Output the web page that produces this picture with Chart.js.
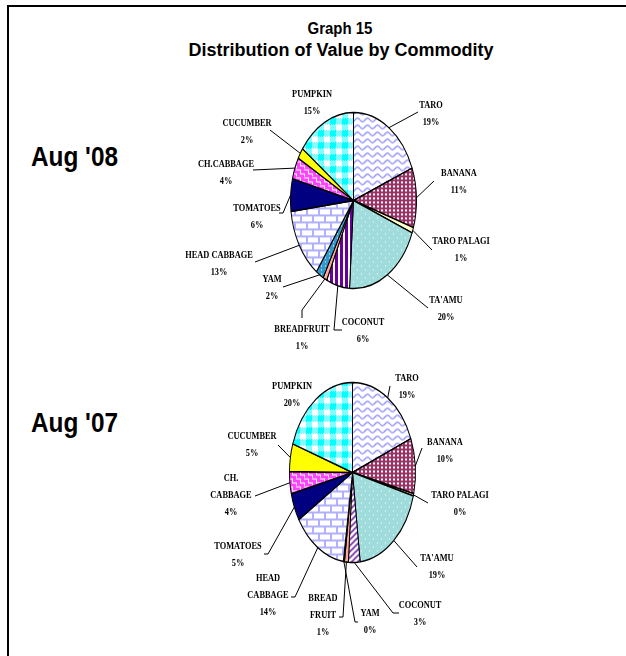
<!DOCTYPE html>
<html>
<head>
<meta charset="utf-8">
<script src="https://cdn.jsdelivr.net/npm/chart.js@4.4.1/dist/chart.umd.min.js"></script>
<style>
body { margin: 0; background: #fff; }
#page { position: relative; width: 626px; height: 656px; overflow: hidden; background: #fff; }
#frame { position: absolute; left: 7px; top: 5px; width: 660px; height: 700px; border-top: 2px solid #000; border-left: 2px solid #000; }
.t { position: absolute; font-family: "Liberation Sans", Arial, sans-serif; font-weight: bold; white-space: nowrap; line-height: 1; color: #000; }
#g15 { left: 340px; top: 20px; font-size: 17px; transform: translateX(-50%) scaleX(0.88); }
#dist { left: 341px; top: 41px; font-size: 18px; transform: translateX(-50%); }
.yr { left: 31px; font-size: 28px; transform-origin: 0 0; transform: scaleX(0.87); }
canvas { position: absolute; left: 0; top: 0; }
</style>
</head>
<body>
<div id="page">
  <div id="frame"></div>
  <div class="t" id="g15">Graph 15</div>
  <div class="t" id="dist">Distribution of Value by Commodity</div>
  <div class="t yr" style="top:143px">Aug '08</div>
  <div class="t yr" style="top:409px">Aug '07</div>
  <canvas id="pie08" width="626" height="656"></canvas>
  <canvas id="pie07" width="626" height="656"></canvas>
</div>
<script>
// Commodity shares (%)
const commodities = ['TARO', 'BANANA', 'TARO PALAGI', "TA'AMU", 'COCONUT', 'BREADFRUIT', 'YAM',
    'HEAD CABBAGE', 'TOMATOES', 'CH.CABBAGE', 'CUCUMBER', 'PUMPKIN'];
const commodities07 = ['TARO', 'BANANA', 'TARO PALAGI', "TA'AMU", 'COCONUT', ['BREAD', 'FRUIT'], 'YAM',
    ['HEAD', 'CABBAGE'], 'TOMATOES', ['CH.', 'CABBAGE'], 'CUCUMBER', 'PUMPKIN'];
const share08 = [19, 11, 1, 20, 6, 1, 2, 13, 6, 4, 2, 15];
const share07 = [19, 10, 0.4, 19, 3, 1, 0.3, 14, 5, 4, 5, 20];

// Where each pie sits and where its callouts go
const layout08 = {
    cx: 353, cy: 200, rx: 63, ry: 88,
    text: [[431, 105], [459, 173], [461, 241], [446, 300], [363, 322], [302, 329],
           [272, 279], [219, 255], [257, 208], [226, 164], [247, 123], [312, 94]],
    leader: [[[418, 112]], [[434, 181]], [[432, 250]], [[428, 308]], [[334, 330], [342, 330]],
             [[302, 310], [302, 318]], [[283, 287]], [[255, 262]], [[283, 213], [279, 213]],
             [[253, 170]], [[270, 130]], null]
};
const layout07 = {
    cx: 352, cy: 472, rx: 63, ry: 90,
    text: [[407, 378], [445, 442], [460, 495], [437, 558], [420, 605], [323, 598],
           [370, 613], [268, 578], [238, 546], [231, 478], [252, 436], [292, 386]],
    leader: [[[390, 386]], [[422, 448]], [[428, 503]], [[417, 567]], [[393, 613], [399, 613]],
             [[343, 617], [339, 617]], [[355, 622], [358, 622]], [[295, 597], [291, 597]],
             [[268, 554], [264, 554]], [[255, 496]], [[278, 445]], null]
};

function tile(w, h, paint) {
    const c = document.createElement('canvas');
    c.width = w;
    c.height = h;
    const g = c.getContext('2d');
    paint(g, w, h);
    return c;
}

const tiles = {
    waves: tile(10, 7, (g, w, h) => {
        g.fillStyle = '#fff'; g.fillRect(0, 0, w, h);
        g.strokeStyle = '#8c8cff'; g.lineWidth = 1.3;
        g.beginPath();
        for (let x = 0; x <= w; x += 0.5) {
            const y = 3.5 + 1.8 * Math.sin(x / w * 2 * Math.PI);
            if (x === 0) g.moveTo(x, y); else g.lineTo(x, y);
        }
        g.stroke();
    }),
    checks: tile(4, 4, (g) => {
        g.fillStyle = '#993366'; g.fillRect(0, 0, 4, 4);
        g.fillStyle = '#fff'; g.fillRect(1, 1, 2, 2);
    }),
    taamu: tile(8, 8, (g) => {
        g.fillStyle = '#a0dcdc'; g.fillRect(0, 0, 8, 8);
        g.fillStyle = '#fff'; g.fillRect(1, 1, 1, 1); g.fillRect(5, 5, 1, 1);
    }),
    stripes: tile(5, 1, (g) => {
        g.fillStyle = '#fff'; g.fillRect(0, 0, 5, 1);
        g.fillStyle = '#660099'; g.fillRect(0, 0, 3, 1);
    }),
    hatch: tile(6, 6, (g) => {
        g.fillStyle = '#fff'; g.fillRect(0, 0, 6, 6);
        g.strokeStyle = '#7a2aa8'; g.lineWidth = 1.6;
        g.beginPath();
        g.moveTo(-1, 7); g.lineTo(7, -1);
        g.moveTo(-4, 4); g.lineTo(4, -4);
        g.moveTo(2, 10); g.lineTo(10, 2);
        g.stroke();
    }),
    yam: tile(4, 4, (g) => {
        g.fillStyle = '#3399cc'; g.fillRect(0, 0, 4, 4);
        g.fillStyle = '#fff'; g.fillRect(1, 1, 1, 1);
    }),
    bricks: tile(12, 14, (g) => {
        g.fillStyle = '#fff'; g.fillRect(0, 0, 12, 14);
        g.fillStyle = '#b0b0ff';
        g.fillRect(0, 0, 12, 2); g.fillRect(0, 7, 12, 2);
        g.fillRect(0, 0, 2, 7); g.fillRect(6, 7, 2, 7);
    }),
    weave: tile(8, 8, (g) => {
        g.fillStyle = '#ff44ff'; g.fillRect(0, 0, 8, 8);
        g.fillStyle = '#fff';
        g.fillRect(0, 1, 4, 1); g.fillRect(4, 1, 1, 4); g.fillRect(4, 5, 4, 1);
        g.fillRect(0, 5, 1, 3); g.fillRect(0, 1, 1, 0);
    }),
    gingham: tile(12, 12, (g) => {
        g.fillStyle = '#fff'; g.fillRect(0, 0, 12, 12);
        g.fillStyle = '#00ffff';
        g.fillRect(6, 6, 6, 6);
        for (let y = 0; y < 12; y++) {
            for (let x = 0; x < 12; x++) {
                const band = (x >= 6) !== (y >= 6);
                if (band && (x + y) % 2 === 0) g.fillRect(x, y, 1, 1);
            }
        }
    })
};

function fillsFor(ctx, squash, coconut) {
    const pat = (t) => {
        const p = ctx.createPattern(t, 'repeat');
        p.setTransform(new DOMMatrix().scale(1, 1 / squash));
        return p;
    };
    return [pat(tiles.waves), pat(tiles.checks), '#ffffcc', pat(tiles.taamu), pat(coconut),
            '#ffa898', pat(tiles.yam), pat(tiles.bricks), '#000080', pat(tiles.weave),
            '#ffff00', pat(tiles.gingham)];
}

// squash the round pie into the tall ellipse of the original
const ellipsePlugin = {
    id: 'ellipse',
    beforeDatasetsDraw(chart, args, opts) {
        const arc = chart.getDatasetMeta(0).data[0];
        const ctx = chart.ctx;
        ctx.save();
        ctx.translate(arc.x, arc.y);
        ctx.scale(1, opts.squash);
        ctx.translate(-arc.x, -arc.y);
    },
    afterDatasetsDraw(chart) {
        chart.ctx.restore();
    }
};

function calloutPlugin(names, values, layout) {
    const total = values.reduce((a, b) => a + b, 0);
    const squash = layout.ry / layout.rx;
    return {
        id: 'callouts',
        afterDraw(chart) {
            const ctx = chart.ctx;
            const arcs = chart.getDatasetMeta(0).data;
            ctx.save();
            ctx.strokeStyle = '#000';
            ctx.lineWidth = 1;
            ctx.fillStyle = '#000';
            ctx.font = 'bold 11px "Liberation Serif", "Times New Roman", serif';
            ctx.textAlign = 'center';
            ctx.textBaseline = 'middle';
            arcs.forEach((arc, i) => {
                const mid = (arc.startAngle + arc.endAngle) / 2;
                const x0 = arc.x + arc.outerRadius * Math.cos(mid);
                const y0 = arc.y + arc.outerRadius * squash * Math.sin(mid);
                const pts = layout.leader[i];
                if (pts) {
                    ctx.beginPath();
                    ctx.moveTo(x0, y0);
                    pts.forEach(p => ctx.lineTo(p[0], p[1]));
                    ctx.stroke();
                }
                const lines = [].concat(names[i]);
                lines.push(Math.round(values[i] / total * 100) + '%');
                const [tx, ty] = layout.text[i];
                lines.forEach((s, k) => {
                    ctx.save();
                    ctx.translate(tx, ty + k * 17);
                    ctx.scale(0.76, 1);
                    ctx.fillText(s, 0, 0);
                    ctx.restore();
                });
            });
            ctx.restore();
        }
    };
}

function drawPie(id, names, values, layout, coconut) {
    const canvas = document.getElementById(id);
    const ctx = canvas.getContext('2d');
    const squash = layout.ry / layout.rx;
    return new Chart(canvas, {
        type: 'pie',
        data: {
            labels: names.map(n => [].concat(n).join(' ')),
            datasets: [{
                data: values,
                backgroundColor: fillsFor(ctx, squash, coconut),
                borderColor: '#000',
                borderWidth: 1
            }]
        },
        options: {
            responsive: false,
            animation: false,
            events: [],
            layout: {
                padding: {
                    left: layout.cx - layout.rx,
                    right: canvas.width - layout.cx - layout.rx - 1,
                    top: layout.cy - layout.rx,
                    bottom: canvas.height - layout.cy - layout.rx - 1
                }
            },
            plugins: {
                legend: { display: false },
                tooltip: { enabled: false },
                ellipse: { squash: squash }
            }
        },
        plugins: [ellipsePlugin, calloutPlugin(names, values, layout)]
    });
}

drawPie('pie08', commodities, share08, layout08, tiles.stripes);
drawPie('pie07', commodities07, share07, layout07, tiles.hatch);
</script>
</body>
</html>
